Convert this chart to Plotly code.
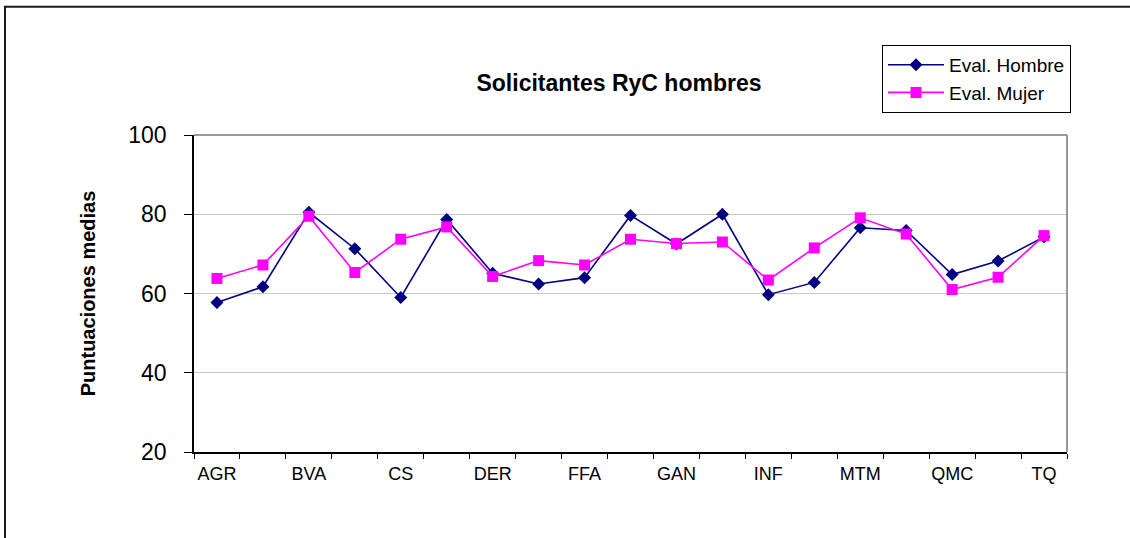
import plotly.graph_objects as go

# Áreas de evaluación (una etiqueta visible de cada dos)
areas = ["AGR", "BMED", "BVA", "COM", "CS", "CT", "DER", "ECO", "FFA", "FIS",
         "GAN", "HIS", "INF", "MAT", "MTM", "PSI", "QMC", "TIC", "TQ"]

# Puntuaciones medias de los solicitantes RyC hombres
eval_hombre = [57.7, 61.7, 80.5, 71.3, 59.0, 78.7, 65.1, 62.4, 64.0, 79.7,
               72.5, 80.0, 59.7, 62.8, 76.6, 75.9, 64.8, 68.2, 74.3]
eval_mujer = [63.8, 67.2, 79.5, 65.3, 73.7, 76.8, 64.3, 68.3, 67.2, 73.7,
              72.6, 73.0, 63.4, 71.5, 79.1, 75.0, 61.0, 64.1, 74.6]

y_ticks = [20, 40, 60, 80, 100]

FONT = "Liberation Sans, Arial, sans-serif"

fig = go.Figure()
fig.add_trace(go.Scatter(
    x=areas, y=eval_hombre, name="Eval. Hombre", mode="lines+markers",
    line=dict(color="#000080", width=1.6),
    marker=dict(symbol="diamond", size=10, color="#000080"),
))
fig.add_trace(go.Scatter(
    x=areas, y=eval_mujer, name="Eval. Mujer", mode="lines+markers",
    line=dict(color="#FF00FF", width=1.6),
    marker=dict(symbol="square", size=11, color="#FF00FF"),
))

tick_text = [a if i % 2 == 0 else "" for i, a in enumerate(areas)]

fig.update_layout(
    width=1130, height=538,
    margin=dict(l=194, r=63, t=135, b=86),
    paper_bgcolor="white", plot_bgcolor="white",
    font=dict(family=FONT, color="black"),
    title=dict(text="<b>Solicitantes RyC hombres</b>", x=619 / 1130, xanchor="center",
               y=1 - 83 / 538, yanchor="middle", font=dict(size=23, family=FONT)),
    showlegend=True,
    legend=dict(x=(882 - 194) / 873, y=(451.5 - 45) / 316.5, xanchor="left", yanchor="top",
                bordercolor="black", borderwidth=1, bgcolor="white",
                font=dict(size=19, family=FONT), itemwidth=56, tracegroupgap=0),
    xaxis=dict(
        type="category", categoryorder="array", categoryarray=areas,
        tickmode="array", tickvals=areas, ticktext=tick_text, tickangle=0,
        tickson="boundaries", ticks="outside", ticklen=5, tickcolor="black",
        showline=True, linecolor="black", linewidth=1.5,
        showgrid=False, tickfont=dict(size=18, family=FONT), ticklabelstandoff=5,
        range=[-0.5, len(areas) - 0.5],
    ),
    yaxis=dict(
        range=[20, 100], tickvals=y_ticks, ticks="outside", ticklen=8, tickcolor="black",
        showline=True, linecolor="black", linewidth=1.5,
        showgrid=True, gridcolor="#c8c8c8", gridwidth=1,
        tickfont=dict(size=23, family=FONT), ticklabelstandoff=13,
        title=dict(text="<b>Puntuaciones medias</b>", font=dict(size=20, family=FONT), standoff=27),
        zeroline=False,
    ),
    shapes=[
        # marco exterior del gráfico
        dict(type="rect", xref="paper", yref="paper",
             x0=(5 - 194) / 873, x1=1.2, y0=-0.5, y1=(451.5 - 7) / 316.5,
             line=dict(color="#1a1a1a", width=2), layer="below"),
        # borde superior y derecho del área de trazado
        dict(type="line", xref="paper", yref="paper", x0=0, x1=1, y0=1, y1=1,
             line=dict(color="#777777", width=1.5), layer="above"),
        dict(type="line", xref="paper", yref="paper", x0=1, x1=1, y0=0, y1=1,
             line=dict(color="#777777", width=1.5), layer="above"),
    ],
)

fig.write_html("out.html")
